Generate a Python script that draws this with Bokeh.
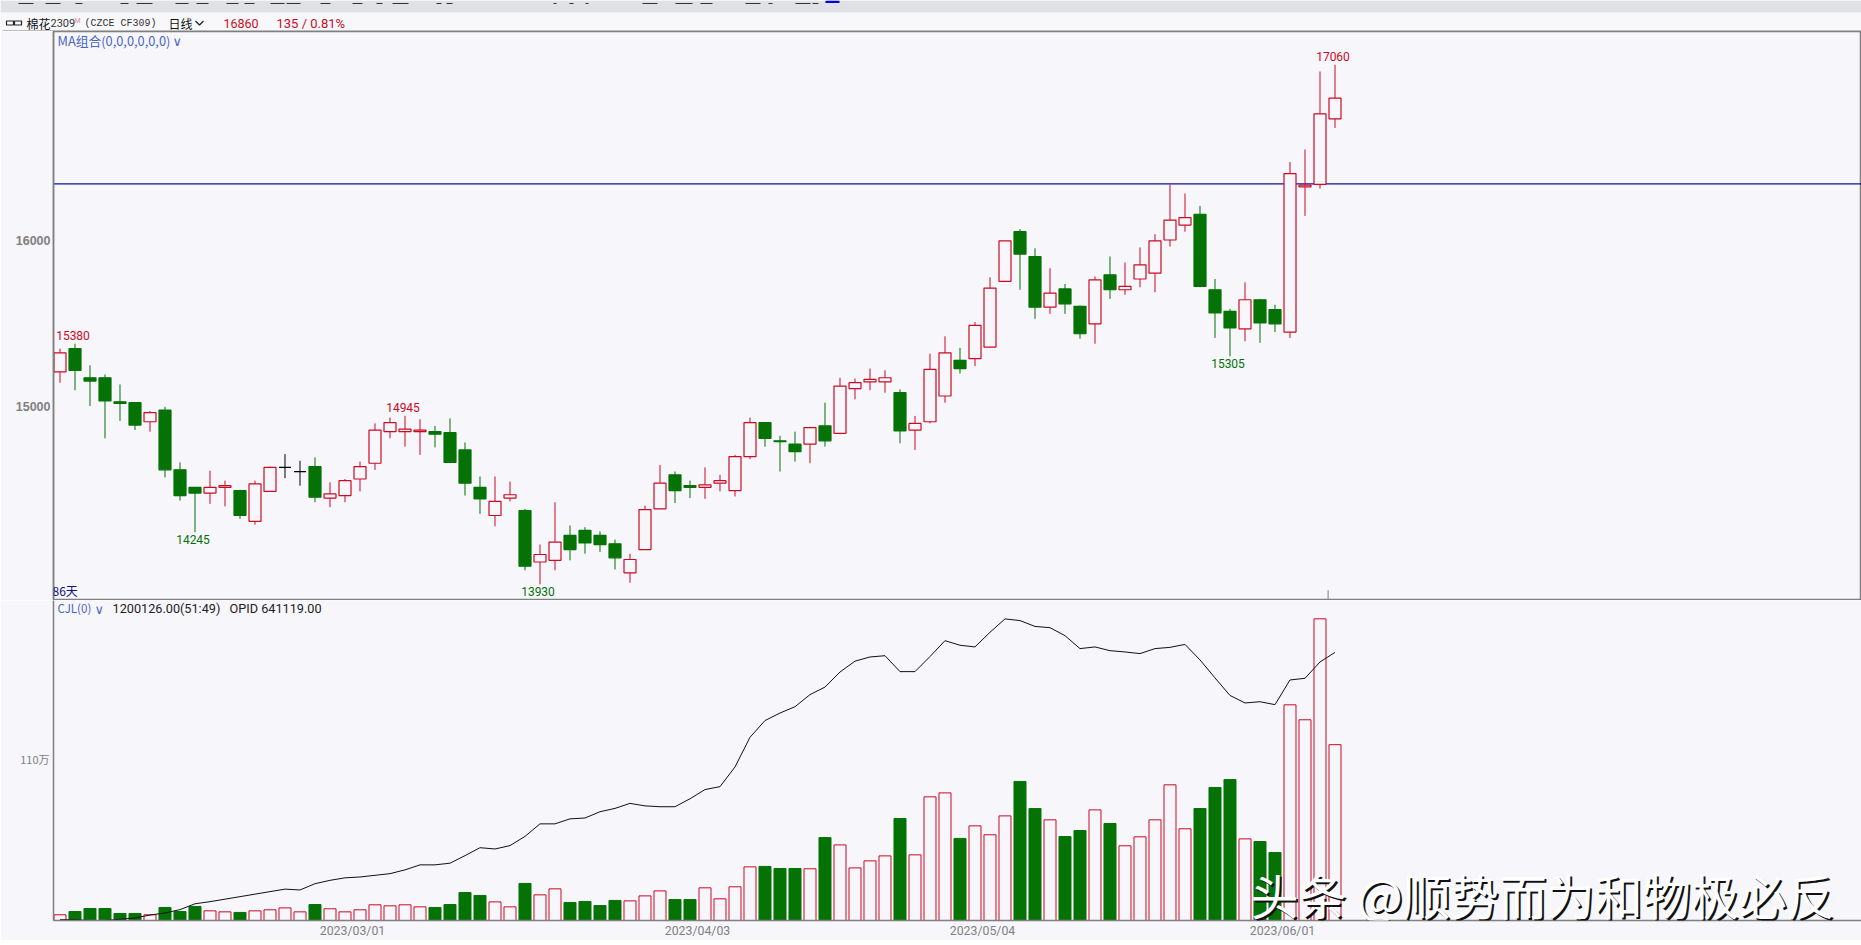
from bokeh.plotting import figure
from bokeh.layouts import column
from bokeh.models import Range1d, FixedTicker, Label, ColumnDataSource
from bokeh.core.properties import value
from bokeh.embed import file_html
from bokeh.resources import INLINE

# ---------- data ----------
opens = [15210,15350,15175,15175,15030,15025,14910,14980,14620,14515,14480,14515,14495,14310,14490,14635,14610,14640,14450,14465,
         14565,14660,14850,14850,14850,14850,14845,14740,14515,14345,14450,14375,14065,14075,14225,14255,14225,14175,14000,14140,
         14385,14590,14525,14515,14540,14495,14700,14905,14795,14775,14775,14885,14840,15110,15150,15150,15085,14860,14910,15065,
         15280,15290,15360,15755,16055,15905,15600,15710,15605,15500,15795,15705,15770,15805,16005,16095,16160,15705,15575,15470,
         15645,15585,15450,16325,16340,16735]
closes = [15325,15220,15155,15035,15020,14890,14965,14620,14465,14480,14515,14525,14345,14535,14635,14635,14610,14455,14475,14555,
          14640,14860,14905,14865,14860,14835,14665,14540,14445,14430,14470,14040,14110,14185,14140,14180,14170,14090,14080,14380,
          14540,14495,14515,14530,14555,14700,14905,14810,14790,14730,14875,14795,15125,15145,15165,15175,14855,14900,15225,15325,
          15230,15490,15715,16000,15920,15600,15685,15620,15440,15765,15705,15725,15855,16000,16125,16140,15725,15565,15475,15645,
          15505,15500,16405,16335,16765,16860]
highs = [15350,15380,15250,15195,15135,15025,14975,15000,14665,14515,14615,14555,14500,14555,14640,14715,14675,14695,14545,14565,
         14670,14900,14935,14945,14925,14885,14930,14785,14580,14580,14550,14385,14170,14425,14285,14275,14250,14200,14115,14405,
         14650,14610,14555,14635,14590,14710,14935,14905,14825,14850,14880,15025,15175,15170,15230,15220,15105,14945,15320,15425,
         15355,15510,15780,16000,16070,15955,15835,15740,15610,15785,15905,15870,15960,16040,16340,16285,16210,15770,15590,15750,
         15650,15615,16475,16550,17020,17060]
lows = [15145,15100,15005,14810,14915,14860,14850,14575,14435,14245,14415,14400,14325,14290,14490,14570,14525,14425,14395,14425,
        14490,14620,14810,14760,14710,14755,14660,14465,14355,14280,14430,14015,13930,14015,14075,14115,14125,14020,13940,14140,
        14385,14420,14450,14445,14490,14460,14685,14760,14610,14670,14660,14760,14835,15045,15100,15085,14780,14740,14900,15025,
        15200,15245,15360,15755,15705,15530,15560,15560,15410,15380,15650,15675,15720,15690,15965,16055,15720,15415,15305,15395,
        15385,15450,15415,16150,16315,16680]
# volume, in units of 10 000 lots
volume = [3.9,6.1,8.2,8.2,4.8,4.8,3.9,8.9,6.1,9.6,6.6,5.9,5.5,6.6,7.3,8.6,5.9,10.9,8.0,5.9,
          7.3,10.7,10.0,10.7,9.3,8.9,10.9,19.1,17.1,12.7,9.3,25.3,17.5,21.6,12.3,13.0,10.2,13.7,13.4,16.8,
          20.2,14.3,14.3,22.3,14.8,23.0,36.6,36.9,35.5,35.5,35.3,56.6,51.6,35.9,40.7,44.1,69.6,44.8,84.4,87.1,
          56.0,64.6,58.5,71.4,94.9,76.4,68.7,57.3,61.4,75.5,66.2,51.0,57.1,68.7,92.6,62.6,76.4,90.8,96.2,55.7,
          53.9,46.4,147.2,137.0,205.9,120.0]
# open interest, in units of 10 000 lots
open_interest = [0.2,0.2,0.0,0.0,0.3,0.6,1.3,1.8,2.6,4.0,4.5,5.1,5.7,6.3,6.9,7.5,7.3,8.8,9.6,10.2,
                 10.4,10.8,11.2,12.1,13.3,13.3,13.7,15.5,17.4,17.1,17.9,20.1,23.1,23.1,24.3,24.5,26.0,26.8,28.0,27.4,
                 27.2,27.2,29.1,31.3,32.0,36.7,43.8,47.8,49.6,51.1,54.0,55.8,59.4,62.0,63.0,63.3,59.5,59.5,63.1,66.9,
                 65.8,65.4,68.9,72.1,71.7,70.3,70.0,68.1,65.0,65.4,64.5,64.2,63.8,65.0,65.3,66.0,62.3,58.0,53.8,52.0,
                 52.3,51.6,57.5,57.9,61.8,64.1]
level_line = 16343
price_ticks = [15000, 16000]
volume_tick = 110
date_ticks = [19.5, 42.5, 61.5, 81.5]
date_labels = ["2023/03/01", "2023/04/03", "2023/05/04", "2023/06/01"]
extreme_idx = [1, 23, 85]
extreme_high = ["15380", "14945", "17060"]
extreme_low_idx = [9, 32, 78]
extreme_low = ["14245", "13930", "15305"]

assert all(len(a) == 86 for a in (opens, closes, highs, lows, volume, open_interest))

# ---------- style ----------
BG = "#f6f6fb"
HEAD = "#f8f8fb"
BAND = "#dfe1e4"
RED = "#cc0a24"
GREEN = "#057205"
GRAY = "#808080"
BLUE = "#4a67c6"
CJK = value("Noto Sans CJK SC")

idx = list(range(86))
def candle_color(o, c):
    return RED if c > o else (GREEN if c < o else "#000000")

colors = [candle_color(o, c) for o, c in zip(opens, closes)]
fills = [BG if c > o else candle_color(o, c) for o, c in zip(opens, closes)]
vol_colors = [GREEN if c < o else RED for o, c in zip(opens, closes)]
vol_fills = [GREEN if c < o else BG for o, c in zip(opens, closes)]

source = ColumnDataSource(dict(x=idx, o=opens, c=closes, h=highs, l=lows,
                               top=[max(a, b) for a, b in zip(opens, closes)],
                               bot=[min(a, b) for a, b in zip(opens, closes)],
                               color=colors, fill=fills, vol=volume,
                               vcolor=vol_colors, vfill=vol_fills, oi=open_interest))

x_range = Range1d(-0.4333, 120.1)

def flat(p):
    p.toolbar.logo = None
    p.grid.visible = False
    p.background_fill_color = BG
    p.border_fill_color = BG

# ---------- header strip ----------
head = figure(width=1861, height=31, x_range=Range1d(0, 1861), y_range=Range1d(31, 0),
              x_axis_type=None, y_axis_type=None, toolbar_location=None, output_backend="svg",
              min_border=0, outline_line_color=None)
head.frame_align = False
flat(head)
head.background_fill_color = HEAD
head.border_fill_color = HEAD
head.quad(left=[0], right=[1861], top=[0], bottom=[12], fill_color=BAND, line_color=None)
head.segment(x0=[2], x1=[1861], y0=[30.5], y1=[30.5], line_color=GRAY, line_width=1)
icon_l = [18, 45, 75, 120, 136, 175, 196, 226, 244, 270, 286, 320, 352, 376, 392, 436, 446, 553, 569, 585, 642, 675, 700, 745, 768, 795, 812]
icon_r = [33, 60, 82, 128, 152, 188, 208, 238, 254, 284, 300, 330, 362, 382, 408, 441, 452, 556, 573, 588, 657, 692, 712, 760, 772, 810, 818]
head.segment(x0=icon_l, x1=icon_r, y0=[3]*len(icon_l), y1=[3]*len(icon_l), line_color="#333333", line_width=1.2)
head.quad(left=[825], right=[839], top=[0], bottom=[2.5], fill_color="#0000e0", line_color=None)
# link icon
head.quad(left=[6, 14], right=[13, 21], top=[20.5, 20.5], bottom=[24.5, 24.5], fill_color=None, line_color="#222222", line_width=1.2)

def htext(x, t, color, font=CJK, size="12px", y=22.5):
    head.text(x=[x], y=[y], text=[t], text_color=color, text_font=font, text_font_size=size,
              text_baseline="middle", text_align="left")

htext(26, "棉花", "#111111")
htext(50, "2309", "#333333", value("Roboto"), "11px")
htext(74, "M", "#e88a9a", value("Roboto"), "7px", 20)
htext(84, "(CZCE CF309)", "#333333", value("Liberation Mono"), "10px")
htext(168, "日线", "#111111")
head.line(x=[195, 199, 203], y=[20.5, 24.5, 20.5], line_color="#222222", line_width=1.3)
htext(223, "16860", RED, value("Roboto"), "12.5px")
htext(276, "135 / 0.81%", RED, value("Roboto"), "13px")

# ---------- price panel ----------
p1 = figure(width=1861, height=569, x_range=x_range, y_range=Range1d(13839, 17261),
            toolbar_location=None, output_backend="svg", min_border_left=53, min_border_right=0,
            min_border_top=0, min_border_bottom=1, outline_line_color=GRAY, outline_line_width=1.5)
flat(p1)
p1.xaxis.visible = False
p1.yaxis.ticker = FixedTicker(ticks=price_ticks)
p1.yaxis.major_tick_line_color = None
p1.yaxis.minor_tick_line_color = None
p1.yaxis.major_tick_out = 0
p1.yaxis.axis_line_color = GRAY
p1.yaxis.axis_line_width = 1.5
p1.yaxis.major_label_text_color = GRAY
p1.yaxis.major_label_text_font = "Liberation Sans"
p1.yaxis.major_label_text_font_size = "12.5px"
p1.yaxis.major_label_text_font_style = "bold"
p1.yaxis.major_label_standoff = 3
p1.yaxis.formatter.use_scientific = False

p1.segment(x0=[-0.4333], x1=[120.1], y0=[level_line], y1=[level_line], line_color="#10109a", line_width=1.2)
p1.segment(x0="x", x1="x", y0="l", y1="h", line_color="color", line_width=1, source=source)
p1.vbar(x="x", top="top", bottom="bot", width=0.8, fill_color="fill", line_color="color",
        line_width=1.2, source=source)
p1.segment(x0=[84.54], x1=[84.54], y0=[13839], y1=[13895], line_color=GRAY, line_width=1)

p1.text(x=extreme_idx, y=[highs[i] for i in extreme_idx], text=extreme_high, text_color=RED,
        text_font=value("Roboto"), text_font_size="12px", text_align="center", text_baseline="bottom",
        y_offset=-4, x_offset=-2)
p1.text(x=extreme_low_idx, y=[lows[i] for i in extreme_low_idx], text=extreme_low, text_color=GREEN,
        text_font=value("Roboto"), text_font_size="12px", text_align="center", text_baseline="top",
        y_offset=3, x_offset=-2)

def label(p, fbottom, x, y, t, color, font="Noto Sans CJK SC", size="12px", **kw):
    p.add_layout(Label(x=x - 53, y=fbottom - y, x_units="screen", y_units="screen", text=t,
                       text_color=color, text_font=font, text_font_size=size,
                       text_baseline="middle", text_align="left", **kw))

label(p1, 599, 57, 40, "MA组合(0,0,0,0,0,0)", BLUE, size="12.8px")
label(p1, 599, 172, 41, "∨", BLUE, "DejaVu Sans", "13px")
label(p1, 599, 52, 590, "86天", "#10107a")

# ---------- volume panel ----------
p2 = figure(width=1861, height=340, x_range=x_range, y_range=Range1d(0, 218.4),
            toolbar_location=None, output_backend="svg", min_border_left=53, min_border_right=0,
            min_border_top=0, min_border_bottom=20, outline_line_color=None)
flat(p2)
p2.extra_y_ranges = {"oi": Range1d(0, 76.5)}
p2.yaxis.ticker = FixedTicker(ticks=[volume_tick])
p2.yaxis.major_label_overrides = {volume_tick: f"{volume_tick}万"}
p2.yaxis.major_tick_line_color = None
p2.yaxis.minor_tick_line_color = None
p2.yaxis.major_tick_out = 0
p2.yaxis.axis_line_color = GRAY
p2.yaxis.axis_line_width = 1.5
p2.yaxis.major_label_text_color = GRAY
p2.yaxis.major_label_text_font = "Noto Sans CJK SC"
p2.yaxis.major_label_text_font_size = "11px"
p2.yaxis.major_label_standoff = 4
p2.xaxis.ticker = FixedTicker(ticks=date_ticks)
p2.xaxis.major_label_overrides = dict(zip(date_ticks, date_labels))
p2.xaxis.major_tick_line_color = None
p2.xaxis.minor_tick_line_color = None
p2.xaxis.major_tick_out = 0
p2.xaxis.axis_line_color = GRAY
p2.xaxis.axis_line_width = 1.5
p2.xaxis.major_label_text_color = GRAY
p2.xaxis.major_label_text_font = "Roboto"
p2.xaxis.major_label_text_font_size = "12.3px"
p2.xaxis.major_label_standoff = 3

p2.vbar(x="x", top="vol", bottom=0, width=0.8, fill_color="vfill", line_color="vcolor",
        line_width=1, source=source)
p2.line(x="x", y="oi", line_color="#111111", line_width=1, y_range_name="oi", source=source)

label(p2, 920, 57, 607.5, "CJL(0)", BLUE, size="11.5px")
label(p2, 920, 94, 608.5, "∨", BLUE, "DejaVu Sans", "13px")
label(p2, 920, 112, 607.5, "1200126.00(51:49)", "#222222", "Roboto", "12.7px")
label(p2, 920, 229, 607.5, "OPID 641119.00", "#222222", "Roboto", "12.7px")

WM = "头条 @顺势而为和物极必反"
label(p2, 920, 1252, 895, WM, "#111111", "Noto Sans CJK SC", "48px")
label(p2, 920, 1250, 893, WM, "#ffffff", "Noto Sans CJK SC", "48px")

# ---------- footer strip ----------
foot = figure(width=1861, height=5, x_range=Range1d(0, 1), y_range=Range1d(0, 1),
              x_axis_type=None, y_axis_type=None, toolbar_location=None, output_backend="svg",
              min_border=0, outline_line_color=None)
foot.frame_align = False
flat(foot)
foot.background_fill_color = BAND
foot.border_fill_color = BAND

page = column(head, p1, p2, foot, spacing=0, styles={"position": "absolute", "left": "0px", "top": "0px"})
open("out.html", "w").write(file_html(page, INLINE))
